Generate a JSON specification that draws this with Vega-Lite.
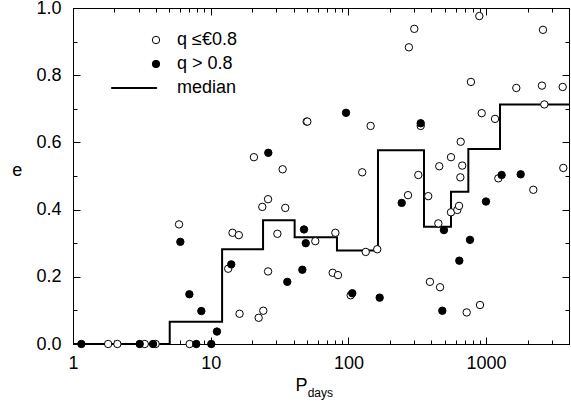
{
  "$schema": "https://vega.github.io/schema/vega-lite/v6.json",
  "width": 496,
  "height": 336,
  "autosize": {"type": "none"},
  "padding": {"left": 73, "top": 8, "right": 2, "bottom": 60},
  "background": "white",
  "title": {
    "text": "days", "orient": "bottom", "anchor": "start", "frame": "group",
    "dx": 234.7, "offset": 2, "fontSize": 12, "fontWeight": "normal",
    "font": "Liberation Sans", "color": "black", "baseline": "alphabetic", "align": "left"
  },
  "config": {
    "view": {"stroke": "black", "strokeWidth": 1},
    "font": "Liberation Sans",
    "axis": {
      "grid": false,
      "domainColor": "black",
      "domainWidth": 1,
      "labelFont": "Liberation Sans",
      "labelFontSize": 18,
      "labelColor": "black",
      "titleFont": "Liberation Sans",
      "titleColor": "black",
      "titleFontWeight": "normal"
    },
    "legend": {
      "orient": "none",
      "legendX": 74,
      "legendY": 23,
      "padding": 0,
      "labelFont": "Liberation Sans",
      "labelFontSize": 18,
      "labelColor": "black",
      "symbolSize": 55,
      "symbolStrokeColor": "black",
      "symbolStrokeWidth": 1,
      "rowPadding": 6,
      "labelOffset": 12
    }
  },
  "datasets": {
    "points": [
      {"P": 1.80, "e": 0, "series": "q ≤€0.8"},
      {"P": 2.10, "e": 0, "series": "q ≤€0.8"},
      {"P": 3.32, "e": 0, "series": "q ≤€0.8"},
      {"P": 3.98, "e": 0, "series": "q ≤€0.8"},
      {"P": 7.03, "e": 0, "series": "q ≤€0.8"},
      {"P": 5.89, "e": 0.356, "series": "q ≤€0.8"},
      {"P": 13.4, "e": 0.224, "series": "q ≤€0.8"},
      {"P": 14.4, "e": 0.331, "series": "q ≤€0.8"},
      {"P": 16.0, "e": 0.324, "series": "q ≤€0.8"},
      {"P": 16.2, "e": 0.09, "series": "q ≤€0.8"},
      {"P": 20.6, "e": 0.556, "series": "q ≤€0.8"},
      {"P": 22.3, "e": 0.078, "series": "q ≤€0.8"},
      {"P": 24.1, "e": 0.099, "series": "q ≤€0.8"},
      {"P": 23.7, "e": 0.408, "series": "q ≤€0.8"},
      {"P": 26.1, "e": 0.431, "series": "q ≤€0.8"},
      {"P": 26.1, "e": 0.216, "series": "q ≤€0.8"},
      {"P": 30.5, "e": 0.328, "series": "q ≤€0.8"},
      {"P": 33.3, "e": 0.52, "series": "q ≤€0.8"},
      {"P": 34.8, "e": 0.405, "series": "q ≤€0.8"},
      {"P": 49.8, "e": 0.662, "series": "q ≤€0.8"},
      {"P": 50.3, "e": 0.662, "series": "q ≤€0.8"},
      {"P": 57.5, "e": 0.306, "series": "q ≤€0.8"},
      {"P": 76.9, "e": 0.212, "series": "q ≤€0.8"},
      {"P": 80.4, "e": 0.331, "series": "q ≤€0.8"},
      {"P": 84.0, "e": 0.205, "series": "q ≤€0.8"},
      {"P": 103.9, "e": 0.145, "series": "q ≤€0.8"},
      {"P": 126, "e": 0.511, "series": "q ≤€0.8"},
      {"P": 133.6, "e": 0.274, "series": "q ≤€0.8"},
      {"P": 145, "e": 0.649, "series": "q ≤€0.8"},
      {"P": 162, "e": 0.282, "series": "q ≤€0.8"},
      {"P": 271, "e": 0.443, "series": "q ≤€0.8"},
      {"P": 275, "e": 0.883, "series": "q ≤€0.8"},
      {"P": 301, "e": 0.938, "series": "q ≤€0.8"},
      {"P": 322, "e": 0.503, "series": "q ≤€0.8"},
      {"P": 335, "e": 0.649, "series": "q ≤€0.8"},
      {"P": 380, "e": 0.440, "series": "q ≤€0.8"},
      {"P": 391, "e": 0.185, "series": "q ≤€0.8"},
      {"P": 450, "e": 0.359, "series": "q ≤€0.8"},
      {"P": 457, "e": 0.529, "series": "q ≤€0.8"},
      {"P": 463, "e": 0.169, "series": "q ≤€0.8"},
      {"P": 556, "e": 0.556, "series": "q ≤€0.8"},
      {"P": 556, "e": 0.392, "series": "q ≤€0.8"},
      {"P": 618, "e": 0.399, "series": "q ≤€0.8"},
      {"P": 636, "e": 0.411, "series": "q ≤€0.8"},
      {"P": 650, "e": 0.496, "series": "q ≤€0.8"},
      {"P": 654, "e": 0.602, "series": "q ≤€0.8"},
      {"P": 671, "e": 0.531, "series": "q ≤€0.8"},
      {"P": 723, "e": 0.094, "series": "q ≤€0.8"},
      {"P": 776, "e": 0.78, "series": "q ≤€0.8"},
      {"P": 893, "e": 0.976, "series": "q ≤€0.8"},
      {"P": 903, "e": 0.116, "series": "q ≤€0.8"},
      {"P": 929, "e": 0.687, "series": "q ≤€0.8"},
      {"P": 1161, "e": 0.670, "series": "q ≤€0.8"},
      {"P": 1227, "e": 0.493, "series": "q ≤€0.8"},
      {"P": 1657, "e": 0.762, "series": "q ≤€0.8"},
      {"P": 2202, "e": 0.459, "series": "q ≤€0.8"},
      {"P": 2545, "e": 0.769, "series": "q ≤€0.8"},
      {"P": 2588, "e": 0.935, "series": "q ≤€0.8"},
      {"P": 2648, "e": 0.713, "series": "q ≤€0.8"},
      {"P": 3600, "e": 0.765, "series": "q ≤€0.8"},
      {"P": 3637, "e": 0.524, "series": "q ≤€0.8"},
      {"P": 1.15, "e": 0, "series": "q > 0.8"},
      {"P": 3.05, "e": 0, "series": "q > 0.8"},
      {"P": 3.81, "e": 0, "series": "q > 0.8"},
      {"P": 6.02, "e": 0.304, "series": "q > 0.8"},
      {"P": 7.0, "e": 0.148, "series": "q > 0.8"},
      {"P": 7.86, "e": 0, "series": "q > 0.8"},
      {"P": 8.55, "e": 0.098, "series": "q > 0.8"},
      {"P": 10.1, "e": 0, "series": "q > 0.8"},
      {"P": 11.1, "e": 0.037, "series": "q > 0.8"},
      {"P": 14.1, "e": 0.237, "series": "q > 0.8"},
      {"P": 26.2, "e": 0.569, "series": "q > 0.8"},
      {"P": 36.0, "e": 0.185, "series": "q > 0.8"},
      {"P": 46.3, "e": 0.221, "series": "q > 0.8"},
      {"P": 47.6, "e": 0.341, "series": "q > 0.8"},
      {"P": 49.0, "e": 0.300, "series": "q > 0.8"},
      {"P": 96.1, "e": 0.688, "series": "q > 0.8"},
      {"P": 106.7, "e": 0.151, "series": "q > 0.8"},
      {"P": 168.7, "e": 0.138, "series": "q > 0.8"},
      {"P": 243.8, "e": 0.42, "series": "q > 0.8"},
      {"P": 335, "e": 0.657, "series": "q > 0.8"},
      {"P": 481, "e": 0.099, "series": "q > 0.8"},
      {"P": 494, "e": 0.339, "series": "q > 0.8"},
      {"P": 639, "e": 0.248, "series": "q > 0.8"},
      {"P": 764, "e": 0.310, "series": "q > 0.8"},
      {"P": 998, "e": 0.424, "series": "q > 0.8"},
      {"P": 1297, "e": 0.503, "series": "q > 0.8"},
      {"P": 1783, "e": 0.505, "series": "q > 0.8"}
    ],
    "median": [
      {"P": 1, "e": 0},
      {"P": 5.04, "e": 0.066},
      {"P": 12.1, "e": 0.282},
      {"P": 24.0, "e": 0.368},
      {"P": 40.7, "e": 0.318},
      {"P": 82.6, "e": 0.278},
      {"P": 164, "e": 0.577},
      {"P": 354, "e": 0.349},
      {"P": 556, "e": 0.453},
      {"P": 743, "e": 0.580},
      {"P": 1262, "e": 0.713},
      {"P": 4000, "e": 0.713}
    ]
  },
  "resolve": {"axis": {"x": "independent", "y": "independent"}},
  "layer": [
    {
      "data": {"name": "median"},
      "mark": {"type": "line", "interpolate": "step-after", "color": "black", "strokeWidth": 2},
      "encoding": {
        "x": {
          "field": "P", "type": "quantitative",
          "scale": {"type": "log", "domain": [1, 4000], "nice": false},
          "axis": {
            "orient": "bottom", "values": [1, 10, 100, 1000], "format": "d",
            "ticks": true, "tickColor": "black", "tickWidth": 1, "tickSize": -7, "labelPadding": 17, "labelFlush": false,
            "title": "P", "titleFontSize": 18, "titleX": 222, "titleY": 46.7,
            "titleAlign": "left", "titleBaseline": "alphabetic"
          }
        },
        "y": {
          "field": "e", "type": "quantitative",
          "scale": {"domain": [0, 1], "nice": false, "zero": false},
          "axis": {
            "orient": "left", "values": [0, 0.2, 0.4, 0.6, 0.8, 1.0], "format": ".1f",
            "ticks": true, "tickColor": "black", "tickWidth": 1, "tickSize": -7, "labelPadding": 19, "labelFlush": false,
            "title": "e", "titleFontSize": 18, "titleAngle": 0, "titleX": -56.3, "titleY": 167.7,
            "titleAlign": "center", "titleBaseline": "alphabetic"
          }
        }
      }
    },
    {
      "data": {"name": "points"},
      "mark": {"type": "point", "strokeWidth": 1, "size": 55, "opacity": 1},
      "encoding": {
        "x": {
          "field": "P", "type": "quantitative",
          "scale": {"type": "log", "domain": [1, 4000], "nice": false},
          "axis": {
            "orient": "bottom",
            "values": [2, 3, 4, 5, 6, 7, 8, 9, 20, 30, 40, 50, 60, 70, 80, 90, 200, 300, 400, 500, 600, 700, 800, 900, 2000, 3000],
            "ticks": true, "tickColor": "black", "tickWidth": 1, "tickSize": -4, "labels": false, "title": null
          }
        },
        "y": {
          "field": "e", "type": "quantitative",
          "scale": {"domain": [0, 1], "nice": false, "zero": false},
          "axis": {"orient": "left", "values": [0.1, 0.3, 0.5, 0.7, 0.9], "ticks": true, "tickColor": "black", "tickWidth": 1, "tickSize": -4, "labels": false, "title": null}
        },
        "fill": {
          "field": "series", "type": "nominal",
          "scale": {"domain": ["q ≤€0.8", "q > 0.8", "median"], "range": ["white", "black", "black"]},
          "legend": {"title": null, "orient": "none", "legendX": 74, "legendY": 23}
        },
        "stroke": {
          "field": "series", "type": "nominal",
          "scale": {"domain": ["q ≤€0.8", "q > 0.8", "median"], "range": ["black", "black", "black"]},
          "legend": {"title": null, "orient": "none", "legendX": 74, "legendY": 23}
        },
        "shape": {
          "field": "series", "type": "nominal",
          "scale": {"domain": ["q ≤€0.8", "q > 0.8", "median"], "range": ["circle", "circle", "M-12,-0.13L0.2,-0.13L0.2,0.13L-12,0.13Z"]},
          "legend": {"title": null, "orient": "none", "legendX": 74, "legendY": 23}
        }
      }
    },
    {
      "data": {"name": "median"},
      "mark": {"type": "point", "opacity": 0},
      "encoding": {
        "x": {
          "field": "P", "type": "quantitative",
          "scale": {"type": "log", "domain": [1, 4000], "nice": false},
          "axis": {"orient": "top", "values": [1, 10, 100, 1000], "ticks": true, "tickColor": "black", "tickWidth": 1, "tickSize": -7, "labels": false, "title": null}
        },
        "y": {
          "field": "e", "type": "quantitative",
          "scale": {"domain": [0, 1], "nice": false, "zero": false},
          "axis": {"orient": "right", "values": [0, 0.2, 0.4, 0.6, 0.8, 1.0], "ticks": true, "tickColor": "black", "tickWidth": 1, "tickSize": -7, "labels": false, "title": null}
        }
      }
    },
    {
      "data": {"name": "median"},
      "mark": {"type": "point", "opacity": 0},
      "encoding": {
        "x": {
          "field": "P", "type": "quantitative",
          "scale": {"type": "log", "domain": [1, 4000], "nice": false},
          "axis": {
            "orient": "top",
            "values": [2, 3, 4, 5, 6, 7, 8, 9, 20, 30, 40, 50, 60, 70, 80, 90, 200, 300, 400, 500, 600, 700, 800, 900, 2000, 3000],
            "ticks": true, "tickColor": "black", "tickWidth": 1, "tickSize": -4, "labels": false, "title": null
          }
        },
        "y": {
          "field": "e", "type": "quantitative",
          "scale": {"domain": [0, 1], "nice": false, "zero": false},
          "axis": {"orient": "right", "values": [0.1, 0.3, 0.5, 0.7, 0.9], "ticks": true, "tickColor": "black", "tickWidth": 1, "tickSize": -4, "labels": false, "title": null}
        }
      }
    }
  ]
}
